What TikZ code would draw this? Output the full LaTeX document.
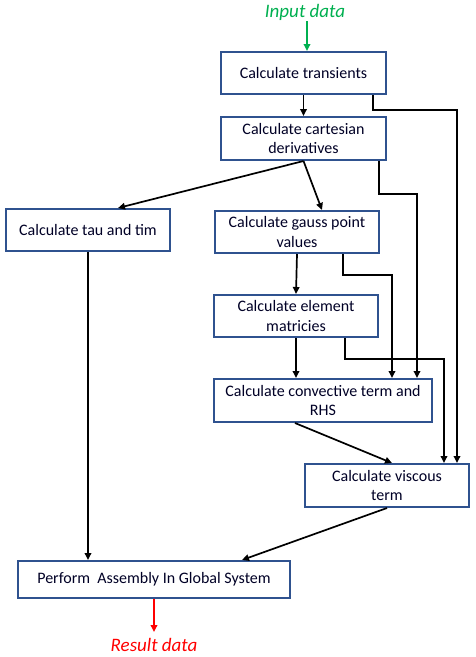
\documentclass[tikz,border=0pt]{standalone}
\usepackage{fontspec}
\setmainfont{Carlito}
\usetikzlibrary{arrows.meta}
\definecolor{boxblue}{RGB}{47,82,143}
\definecolor{ingreen}{RGB}{0,176,80}
\begin{document}
\begin{tikzpicture}[x=1pt,y=-1pt,
  box/.style={draw=boxblue,line width=2pt,fill=white,align=center,inner sep=1pt,
    font=\fontsize{16pt}{19.5pt}\selectfont,text=black!85!blue},
  arr/.style={line width=1.7pt,-{Triangle[length=7pt,width=6.5pt]}},
  lbl/.style={font=\fontsize{19pt}{22pt}\selectfont\itshape,inner sep=0pt}]
\useasboundingbox[fill=white] (0,0) rectangle (476,657);
\node[box,minimum width=165pt,minimum height=42pt] (trans) at (303.5,73) {Calculate transients};
\node[box,minimum width=165pt,minimum height=43pt] (cart) at (303.5,138.5) {Calculate cartesian\\derivatives};
\node[box,minimum width=164pt,minimum height=42pt] (tau) at (88,230) {Calculate tau and tim};
\node[box,minimum width=164pt,minimum height=42pt] (gauss) at (297,232) {Calculate gauss point\\values};
\node[box,minimum width=164pt,minimum height=42pt] (elem) at (296,316) {Calculate element\\matricies};
\node[box,minimum width=218pt,minimum height=43pt] (conv) at (323,400.5) {Calculate convective term and\\RHS};
\node[box,minimum width=164pt,minimum height=43pt] (visc) at (387,485.5) {Calculate viscous\\term};
\node[box,minimum width=272pt,minimum height=37pt] (asm) at (154,579.5) {Perform~ Assembly In Global System};
\node[lbl,text=ingreen] (input) at (305,12) {Input data};
\node[lbl,text=red] (result) at (154,645) {Result data};
\coordinate (inA) at (307,21);
\draw[arr,ingreen] (inA) -- (inA |- trans.north);
\draw[arr] (trans.south) -- (cart.north);
\draw[arr] ([xshift=69.5]trans.south) -- ++(0,15) -| ([xshift=70]visc.north);
\draw[arr] ([xshift=75.5]cart.south) -- ++(0,33) -| ([xshift=94]conv.north);
\draw[arr] (cart.south) -- ([xshift=30]tau.north);
\draw[arr] (cart.south) -- ([xshift=25]gauss.north);
\draw[arr] (gauss.south) -- (elem.north);
\draw[arr] ([xshift=46]gauss.south) -- ++(0,21) -| ([xshift=69]conv.north);
\draw[arr] (elem.south) -- (elem.south |- conv.north);
\draw[arr] ([xshift=49]elem.south) -- ++(0,21) -| ([xshift=57]visc.north);
\draw[arr] ([xshift=-28]conv.south) -- ([xshift=5]visc.north);
\draw[arr] (visc.south) -- ([xshift=88]asm.north);
\draw[arr] (tau.south) -- (tau.south |- asm.north);
\draw[arr,red] (asm.south) -- ([yshift=-33pt]asm.south) coordinate (resA);
\end{tikzpicture}
\end{document}
